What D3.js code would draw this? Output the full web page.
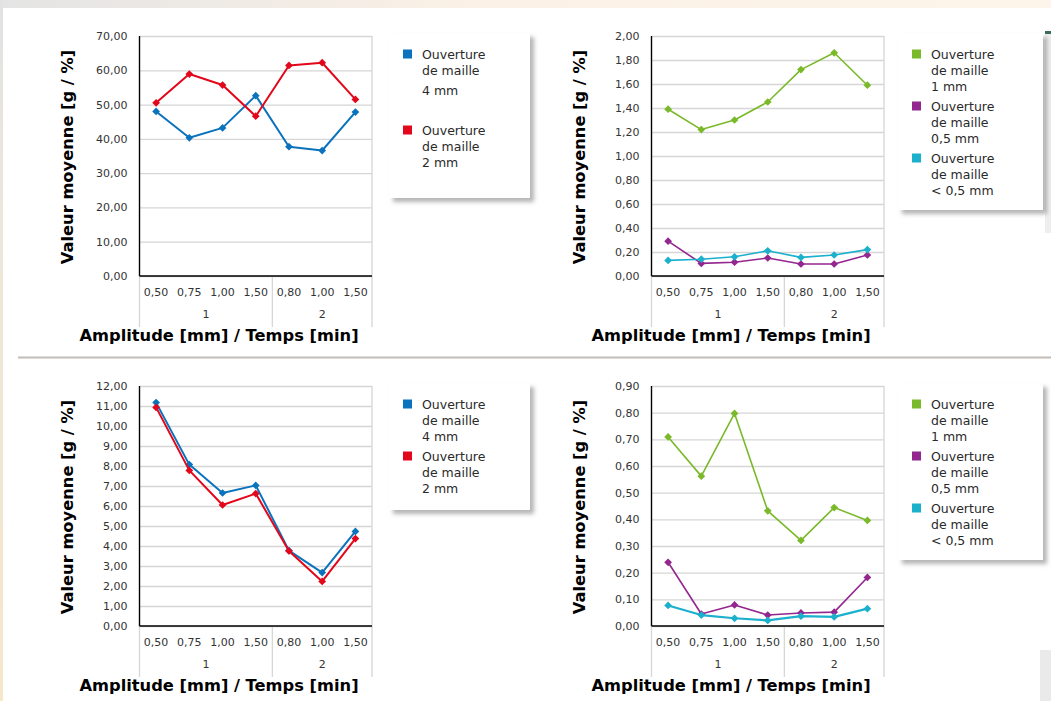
<!DOCTYPE html>
<html>
<head>
<meta charset="utf-8">
<script src="https://cdn.jsdelivr.net/npm/d3@7"></script>
<style>
  body { margin: 0; background: #fff; }
  svg { display: block; font-family: "DejaVu Sans", Verdana, sans-serif; }
</style>
</head>
<body>
<div id="chart-area"></div>
<script>

// categories (amplitude / time) and their groups
const categories = ['0,50', '0,75', '1,00', '1,50', '0,80', '1,00', '1,50'];
const groupLabels = ['1', '2'];
const groupSizes = [4, 3];

// top left
const p1Maille4 = [48.0, 40.3, 43.2, 52.6, 37.7, 36.6, 47.8];
const p1Maille2 = [50.5, 58.9, 55.7, 46.6, 61.4, 62.2, 51.5];
const p1Ticks = [0, 10, 20, 30, 40, 50, 60, 70];

// top right
const p2Maille1 = [1.39, 1.22, 1.30, 1.45, 1.72, 1.86, 1.59];
const p2Maille05 = [0.29, 0.105, 0.115, 0.15, 0.10, 0.10, 0.175];
const p2MailleLt05 = [0.13, 0.14, 0.16, 0.21, 0.155, 0.175, 0.22];
const p2Ticks = [0, 0.2, 0.4, 0.6, 0.8, 1.0, 1.2, 1.4, 1.6, 1.8, 2.0];

// bottom left
const p3Maille4 = [11.17, 8.07, 6.65, 7.03, 3.77, 2.67, 4.73];
const p3Maille2 = [10.93, 7.78, 6.05, 6.62, 3.75, 2.23, 4.37];
const p3Ticks = [0, 1, 2, 3, 4, 5, 6, 7, 8, 9, 10, 11, 12];

// bottom right
const p4Maille1 = [0.709, 0.562, 0.797, 0.432, 0.321, 0.444, 0.396];
const p4Maille05 = [0.239, 0.045, 0.079, 0.041, 0.049, 0.052, 0.182];
const p4MailleLt05 = [0.077, 0.041, 0.029, 0.021, 0.037, 0.034, 0.065];
const p4Ticks = [0, 0.1, 0.2, 0.3, 0.4, 0.5, 0.6, 0.7, 0.8, 0.9];

const lab4 = ['Ouverture', 'de maille', '4 mm'];
const lab2 = ['Ouverture', 'de maille', '2 mm'];
const lab1 = ['Ouverture', 'de maille', '1 mm'];
const lab05 = ['Ouverture', 'de maille', '0,5 mm'];
const labLt05 = ['Ouverture', 'de maille', '< 0,5 mm'];

const blue = '#0b72bd', red = '#e2071b', green = '#7ab929', purple = '#93268f', cyan = '#1bb0cc';

const fr = d3.formatLocale({ decimal: ',', thousands: ' ', grouping: [3], currency: ['', ' €'] });
const fmt = fr.format('.2f');

const plotW = 232.5, plotH = 240;

const panels = [
  { left: 139.5, top: 36, ticks: p1Ticks,
    series: [{ v: p1Maille4, c: blue, w: 2, lab: lab4 }, { v: p1Maille2, c: red, w: 2, lab: lab2 }],
    box: { x: 389, y: 33, w: 141, h: 165 }, legY: [[54, 70, 90], [130, 146, 162]] },
  { left: 651.5, top: 36, ticks: p2Ticks,
    series: [{ v: p2Maille1, c: green, w: 1.6, lab: lab1 }, { v: p2Maille05, c: purple, w: 1.6, lab: lab05 },
             { v: p2MailleLt05, c: cyan, w: 1.6, lab: labLt05 }],
    box: { x: 898, y: 33, w: 145, h: 177 }, legY: [[54, 70, 86], [106, 122, 138], [158, 174, 190]] },
  { left: 139.5, top: 386, ticks: p3Ticks,
    series: [{ v: p3Maille4, c: blue, w: 2, lab: lab4 }, { v: p3Maille2, c: red, w: 2, lab: lab2 }],
    box: { x: 389, y: 383, w: 141, h: 127 }, legY: [[404, 420, 436], [456, 472, 488]] },
  { left: 651.5, top: 386, ticks: p4Ticks,
    series: [{ v: p4Maille1, c: green, w: 1.6, lab: lab1 }, { v: p4Maille05, c: purple, w: 1.6, lab: lab05 },
             { v: p4MailleLt05, c: cyan, w: 2.2, lab: labLt05 }],
    box: { x: 898, y: 383, w: 145, h: 177 }, legY: [[404, 420, 436], [456, 472, 488], [508, 524, 540]] }
];

const svg = d3.select('#chart-area').append('svg')
  .attr('width', 1051)
  .attr('height', 701);

const defs = svg.append('defs');
const topGrad = defs.append('linearGradient').attr('id', 'topGrad');
topGrad.append('stop').attr('offset', '0%').attr('stop-color', '#e4e4e4');
topGrad.append('stop').attr('offset', '45%').attr('stop-color', '#fbf1e6');
topGrad.append('stop').attr('offset', '100%').attr('stop-color', '#fdf4ea');
const leftGrad = defs.append('linearGradient').attr('id', 'leftGrad')
  .attr('x1', 0).attr('x2', 0).attr('y1', 0).attr('y2', 1);
leftGrad.append('stop').attr('offset', '0%').attr('stop-color', '#e2e2e2');
leftGrad.append('stop').attr('offset', '30%').attr('stop-color', '#ece6dc');
leftGrad.append('stop').attr('offset', '100%').attr('stop-color', '#f6e7c9');
defs.append('filter').attr('id', 'shadow')
  .attr('x', '-10%').attr('y', '-10%').attr('width', '130%').attr('height', '130%')
  .append('feDropShadow')
    .attr('dx', 4).attr('dy', 4).attr('stdDeviation', 2)
    .attr('flood-color', '#777').attr('flood-opacity', 0.55);

// page background bits
svg.append('rect').attr('x', 0).attr('y', 0).attr('width', 1051).attr('height', 8).attr('fill', 'url(#topGrad)');
svg.append('rect').attr('x', 0).attr('y', 0).attr('width', 3).attr('height', 701).attr('fill', 'url(#leftGrad)');
svg.append('rect').attr('x', 18).attr('y', 356.5).attr('width', 1033).attr('height', 2).attr('fill', '#c3bbb5');
svg.append('rect').attr('x', 1045).attr('y', 33).attr('width', 6).attr('height', 200).attr('fill', '#eeeeee');
svg.append('rect').attr('x', 1045).attr('y', 31).attr('width', 6).attr('height', 3).attr('fill', '#3d6b5a');
svg.append('rect').attr('x', 1040).attr('y', 650).attr('width', 11).attr('height', 51).attr('fill', '#eaeaea');

panels.forEach(p => {
  const g = svg.append('g').attr('transform', `translate(${p.left}, ${p.top})`);

  const x = d3.scaleBand()
    .domain(d3.range(categories.length))
    .range([0, plotW]);

  const y = d3.scaleLinear()
    .domain([0, d3.max(p.ticks)])
    .range([plotH, 0]);

  // grid
  g.append('g')
    .call(d3.axisLeft(y).tickValues(p.ticks).tickSize(-plotW).tickFormat(''))
    .call(a => a.select('.domain').remove())
    .call(a => a.selectAll('line').attr('stroke', '#d6d6d6').attr('stroke-width', 1.3));

  // y labels
  g.append('g')
    .call(d3.axisLeft(y).tickValues(p.ticks).tickSize(0).tickPadding(12).tickFormat(fmt))
    .call(a => a.select('.domain').remove())
    .call(a => a.selectAll('text').attr('fill', '#333').style('font-size', '11px')
      .style('font-family', '"DejaVu Sans", sans-serif'));

  // category labels
  g.append('g')
    .attr('transform', `translate(0, ${plotH})`)
    .call(d3.axisBottom(x).tickSize(0).tickPadding(12).tickFormat(i => categories[i]))
    .call(a => a.select('.domain').remove())
    .call(a => a.selectAll('text').attr('fill', '#333').style('font-size', '11px')
      .style('font-family', '"DejaVu Sans", sans-serif'));

  // group separators and labels
  const bounds = [0];
  groupSizes.forEach(s => bounds.push(bounds[bounds.length - 1] + s));
  const sepX = bounds.map((b, i) => i === bounds.length - 1 ? plotW : x(b));
  g.selectAll('.sep')
    .data(sepX)
    .enter().append('line')
      .attr('x1', d => d).attr('x2', d => d)
      .attr('y1', (d, i) => i === sepX.length - 1 ? 0 : plotH)
      .attr('y2', plotH + 51)
      .attr('stroke', '#d6d6d6').attr('stroke-width', 1.3);
  g.selectAll('.grp')
    .data(groupLabels)
    .enter().append('text')
      .attr('x', (d, i) => (sepX[i] + sepX[i + 1]) / 2)
      .attr('y', plotH + 42)
      .attr('text-anchor', 'middle')
      .attr('fill', '#333')
      .style('font-size', '11px')
      .text(d => d);

  // axis lines
  g.append('line').attr('x1', 0).attr('x2', 0).attr('y1', 0).attr('y2', plotH)
    .attr('stroke', '#000').attr('stroke-width', 1.4);
  g.append('line').attr('x1', 0).attr('x2', plotW).attr('y1', plotH).attr('y2', plotH)
    .attr('stroke', '#000').attr('stroke-width', 1.4);

  // titles
  g.append('text')
    .attr('x', 79.5).attr('y', plotH + 65)
    .attr('text-anchor', 'middle')
    .style('font-size', '16.3px').style('font-weight', 'bold')
    .text('Amplitude [mm] / Temps [min]');
  g.append('text')
    .attr('transform', `translate(-66.5, 121) rotate(-90)`)
    .attr('text-anchor', 'middle')
    .style('font-size', '16.3px').style('font-weight', 'bold')
    .text('Valeur moyenne [g / %]');

  // lines + markers
  const line = d3.line()
    .x((d, i) => x(i) + x.bandwidth() / 2)
    .y(d => y(d));
  const marker = d3.symbol(d3.symbolSquare, 30);

  p.series.forEach(s => {
    g.append('path')
      .datum(s.v)
      .attr('d', line)
      .attr('fill', 'none')
      .attr('stroke', s.c)
      .attr('stroke-width', s.w)
      .attr('stroke-linejoin', 'round');
    g.selectAll(null)
      .data(s.v)
      .enter().append('path')
        .attr('d', marker)
        .attr('transform', (d, i) => `translate(${x(i) + x.bandwidth() / 2}, ${y(d)}) rotate(45)`)
        .attr('fill', s.c);
  });

  // legend
  svg.append('rect')
    .attr('x', p.box.x).attr('y', p.box.y)
    .attr('width', p.box.w).attr('height', p.box.h)
    .attr('fill', '#fff')
    .attr('filter', 'url(#shadow)');
  p.series.forEach((s, k) => {
    const ys = p.legY[k];
    svg.append('rect')
      .attr('x', p.box.x + 14).attr('y', ys[0] - 4.5)
      .attr('width', 9).attr('height', 9)
      .attr('fill', s.c);
    svg.selectAll(null)
      .data(s.lab)
      .enter().append('text')
        .attr('x', p.box.x + 33)
        .attr('y', (d, i) => ys[i])
        .attr('dy', '0.36em')
        .attr('fill', '#2a2a2a')
        .style('font-size', '12.5px')
        .text(d => d);
  });
});

</script>
</body>
</html>
